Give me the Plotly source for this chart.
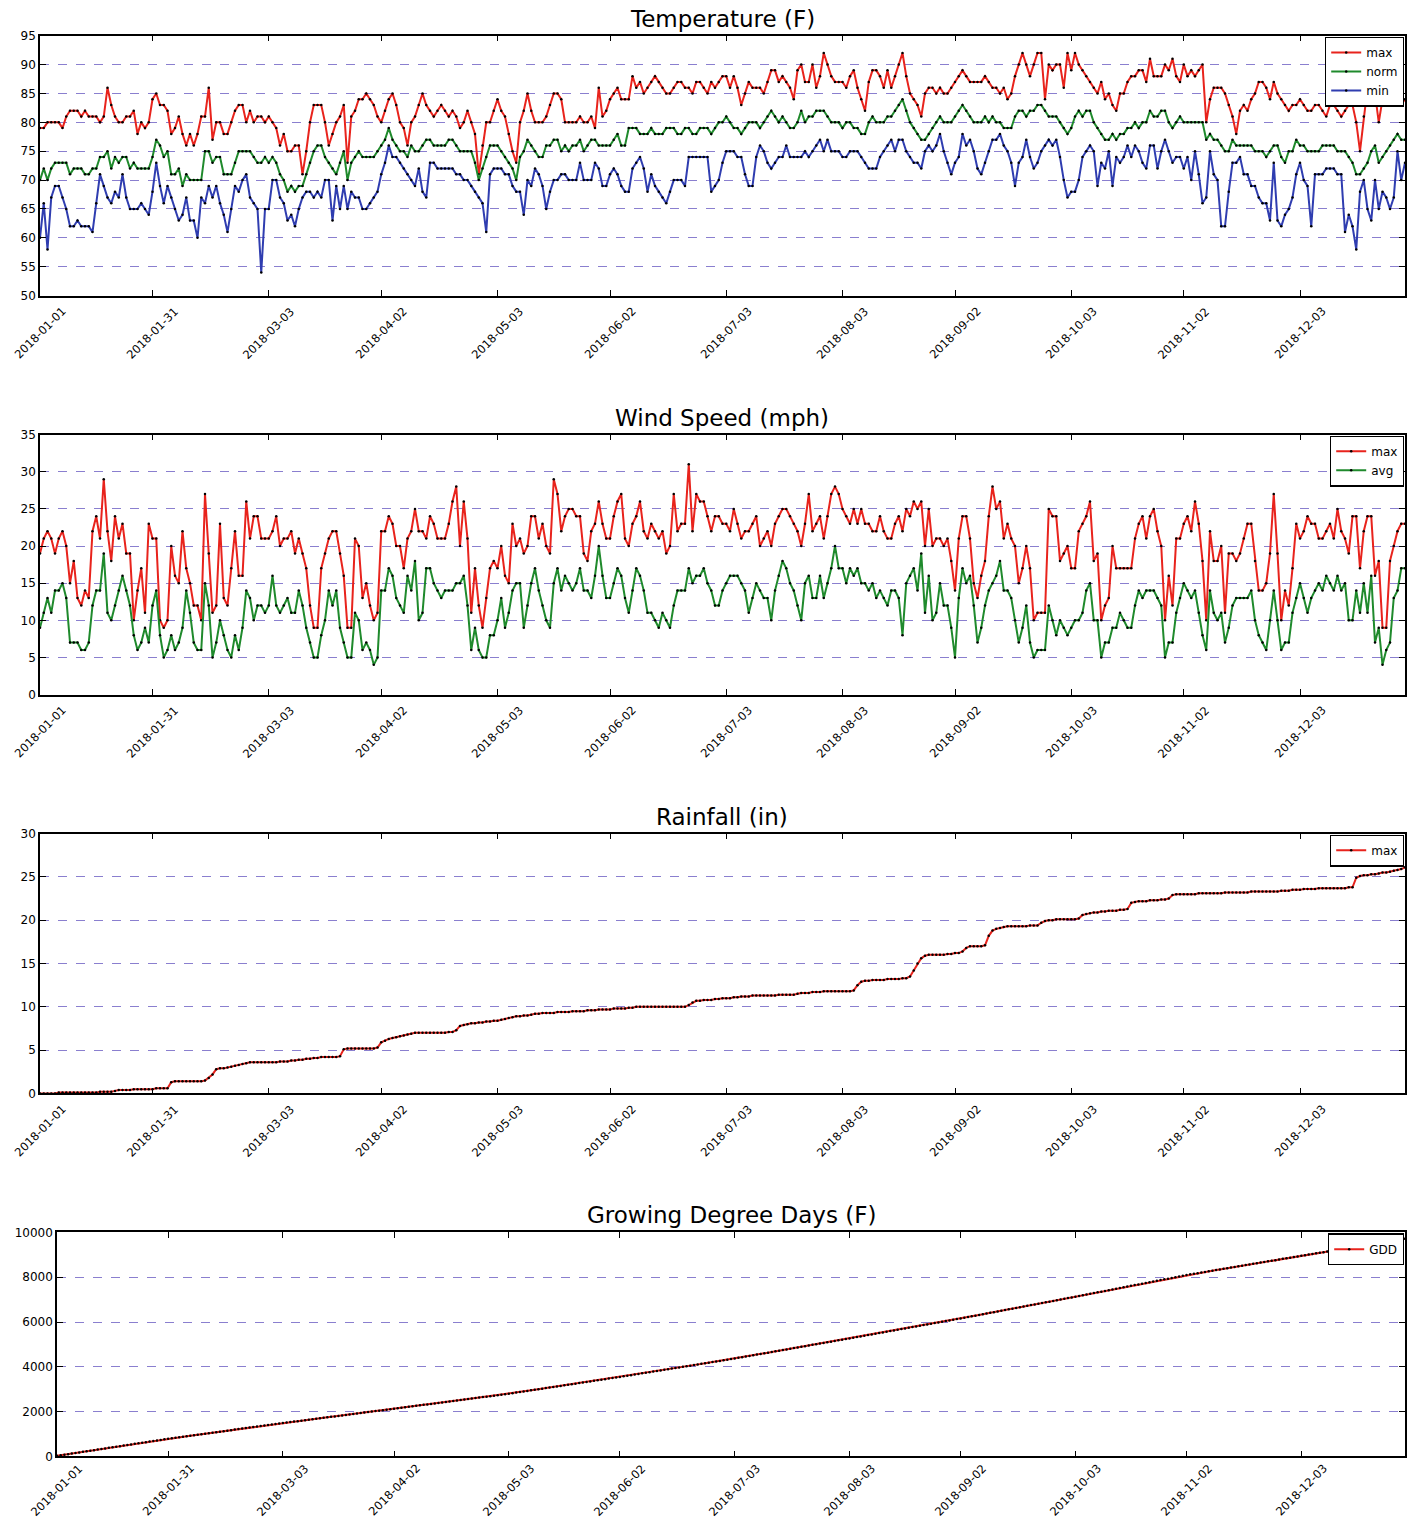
import pandas as pd
import plotly.graph_objects as go

# ---------------- data ----------------
dates = pd.date_range("2018-01-01", "2018-12-31", freq="D")
tick_dates = ["2018-01-01", "2018-01-31", "2018-03-03", "2018-04-02", "2018-05-03", "2018-06-02",
              "2018-07-03", "2018-08-03", "2018-09-02", "2018-10-03", "2018-11-02", "2018-12-03"]

temp_max = [79,79,80,80,80,80,79,81,82,82,
 82,81,82,81,81,81,80,81,86,83,
 81,80,80,81,81,82,78,80,79,80,
 84,85,83,83,82,78,79,81,78,76,
 78,76,78,81,81,86,77,80,80,78,
 78,80,82,83,83,80,82,80,81,81,
 80,81,80,79,76,78,75,75,76,76,
 71,75,80,83,83,83,80,76,78,80,
 81,83,73,81,82,84,84,85,84,83,
 81,80,82,84,85,83,80,79,76,80,
 81,83,85,83,82,81,82,83,82,81,
 82,81,79,80,82,80,78,71,76,80,
 80,82,84,82,81,78,75,73,80,82,
 85,82,80,80,80,81,83,85,85,84,
 80,80,80,80,81,80,80,81,79,86,
 81,82,84,85,86,84,84,84,88,86,
 87,85,86,87,88,87,86,85,85,86,
 87,87,86,86,85,87,87,86,85,87,
 86,87,88,88,86,88,86,83,85,87,
 86,86,86,85,87,89,89,87,88,87,
 86,84,89,90,87,87,90,86,88,92,
 90,88,87,87,87,86,88,89,86,84,
 82,87,89,89,88,86,89,86,88,90,
 92,88,85,84,83,81,85,86,86,85,
 86,85,85,86,87,88,89,88,87,87,
 87,87,88,87,86,86,85,86,84,85,
 88,90,92,90,88,90,92,92,84,90,
 89,90,90,86,92,89,92,90,89,88,
 87,86,85,87,84,85,83,82,85,85,
 87,88,88,89,89,87,91,88,88,88,
 90,89,91,88,87,90,88,89,88,89,
 90,80,84,86,86,86,85,83,81,78,
 82,83,82,84,85,87,87,86,84,87,
 85,84,83,82,83,83,84,83,82,82,
 83,83,82,81,83,83,82,81,82,83,
 83,80,75,81,86,87,85,80,84,87,
 85,83,83,83,84]

temp_norm = [70,72,70,72,73,73,73,73,71,72,
 72,72,71,71,72,72,74,74,75,72,
 74,73,74,74,72,73,72,72,72,72,
 74,77,76,74,75,71,71,72,69,71,
 70,70,70,70,75,75,73,74,74,71,
 71,71,73,75,75,75,75,74,73,73,
 74,73,74,73,71,70,68,69,68,69,
 69,71,73,75,76,76,74,73,72,71,
 73,75,70,73,74,75,74,74,74,74,
 75,76,77,79,77,76,75,75,74,76,
 75,75,76,77,77,76,76,76,76,77,
 77,76,75,75,75,75,73,70,72,74,
 76,76,76,75,74,73,72,70,74,75,
 77,76,75,74,74,76,76,77,77,75,
 76,75,76,76,77,75,76,77,77,76,
 76,76,76,77,78,76,76,79,79,79,
 78,78,78,79,78,78,78,79,79,79,
 78,78,79,79,78,78,79,79,79,78,
 79,80,80,81,80,79,79,78,79,80,
 80,80,79,80,81,82,81,80,81,80,
 79,79,80,82,80,81,81,82,82,82,
 81,80,80,80,79,80,80,79,79,78,
 78,80,81,80,80,80,81,81,82,83,
 84,82,80,79,78,77,77,78,79,80,
 81,80,80,80,81,82,83,82,81,80,
 80,80,81,80,81,80,80,79,79,79,
 81,82,82,81,82,82,83,83,82,81,
 81,81,80,79,78,79,81,82,81,82,
 82,80,79,78,77,77,78,77,78,78,
 79,79,80,79,80,80,82,81,81,82,
 82,80,79,80,81,80,80,80,80,80,
 80,77,78,77,77,76,75,75,77,76,
 76,76,76,76,75,75,75,74,75,76,
 76,74,73,75,75,77,76,76,75,75,
 75,75,76,76,76,76,75,75,75,74,
 73,71,71,72,73,75,76,73,74,75,
 76,77,78,77,77]

temp_min = [60,66,58,67,69,69,67,65,62,62,
 63,62,62,62,61,66,71,69,67,66,
 68,67,71,67,65,65,65,66,65,64,
 68,73,69,66,69,67,65,63,64,67,
 63,63,60,67,66,69,67,69,66,64,
 61,65,69,68,70,71,67,66,65,54,
 65,65,70,70,67,66,63,64,62,65,
 67,68,68,67,68,67,70,70,63,69,
 65,69,65,68,67,67,65,65,66,67,
 68,71,73,76,74,74,73,72,71,70,
 69,72,68,67,73,73,72,72,72,72,
 72,71,71,70,70,69,68,67,66,61,
 71,72,72,72,71,71,69,68,68,64,
 70,69,72,71,69,65,68,70,70,71,
 71,70,70,70,73,70,70,70,73,72,
 69,69,71,72,71,69,68,68,72,73,
 74,72,68,71,69,68,67,66,68,70,
 70,70,69,74,74,74,74,74,74,68,
 69,70,73,75,75,75,74,74,71,69,
 69,74,76,75,73,72,73,74,74,76,
 74,74,74,74,75,74,75,76,77,75,
 77,75,75,75,74,74,75,75,75,74,
 73,72,72,72,74,75,76,77,75,77,
 77,75,74,73,73,72,75,76,75,76,
 78,75,73,71,73,74,78,76,77,75,
 72,71,73,75,77,77,78,76,75,73,
 69,73,74,77,74,72,73,75,76,77,
 76,77,74,70,67,68,68,70,74,75,
 76,75,69,73,72,75,69,74,73,74,
 76,74,76,75,73,72,76,76,72,75,
 77,75,73,74,74,72,74,70,75,71,
 66,67,75,71,70,62,62,68,73,73,
 74,71,71,69,69,67,66,66,63,73,
 63,62,64,65,67,71,73,70,69,62,
 71,71,71,72,72,72,71,71,61,64,
 62,58,68,70,65,63,70,65,68,67,
 65,67,75,70,73]

wind_max = [19,21,22,21,19,21,22,20,15,18,
 13,12,14,13,22,24,21,29,22,18,
 24,21,23,19,19,10,14,17,11,23,
 21,21,10,9,10,20,16,15,22,17,
 15,12,12,10,27,19,11,12,23,13,
 12,17,22,16,16,26,21,24,24,21,
 21,21,22,24,20,21,21,22,19,21,
 19,17,12,9,9,17,19,21,22,22,
 19,16,9,9,21,20,13,15,12,10,
 11,22,22,24,23,20,20,17,21,22,
 25,22,22,21,24,23,21,21,21,23,
 26,28,20,26,21,11,17,12,9,13,
 17,18,17,20,16,15,23,20,21,19,
 20,24,24,21,23,20,19,29,27,22,
 24,25,25,24,24,19,18,22,23,26,
 23,21,21,24,26,27,21,20,23,24,
 26,22,21,23,22,21,22,19,20,27,
 22,23,23,31,22,27,26,26,24,22,
 24,24,23,23,22,25,23,21,22,22,
 23,24,20,21,22,20,23,24,25,25,
 24,23,22,20,23,27,22,23,24,21,
 24,27,28,27,25,24,23,25,23,25,
 23,23,22,22,24,22,21,21,23,24,
 22,25,24,26,25,26,20,25,20,21,
 21,20,21,18,14,21,24,24,21,15,
 13,16,18,24,28,25,26,21,23,21,
 20,15,17,20,17,10,11,11,11,25,
 24,24,18,19,20,17,17,22,23,24,
 26,18,19,10,12,13,20,17,17,17,
 17,17,21,23,24,21,24,25,22,20,
 10,16,12,21,21,23,24,22,26,23,
 18,10,22,18,18,20,11,19,19,18,
 19,21,23,23,18,14,14,15,19,27,
 19,10,14,12,17,23,21,22,24,23,
 23,21,21,22,23,21,25,22,21,19,
 24,24,17,22,24,24,16,18,9,9,
 18,20,22,23,23]

wind_avg = [9,11,13,11,14,14,15,13,7,7,
 7,6,6,7,12,14,14,19,11,10,
 12,14,16,14,12,8,6,7,9,7,
 12,14,8,5,6,8,6,7,9,14,
 11,7,6,6,15,12,5,7,10,8,
 6,5,8,6,9,14,13,10,12,12,
 11,12,16,12,11,12,13,11,11,14,
 12,9,7,5,5,8,10,14,12,14,
 9,7,5,5,11,10,6,7,6,4,
 5,14,14,17,16,13,12,11,16,14,
 18,10,11,17,17,15,14,13,14,14,
 14,15,15,16,12,6,9,6,5,5,
 8,8,10,13,9,11,14,15,15,9,
 12,15,17,14,12,10,9,15,17,14,
 16,15,14,15,17,14,14,13,16,20,
 16,13,13,15,17,16,13,11,14,17,
 16,14,11,11,10,9,11,10,9,12,
 14,14,14,17,15,16,16,17,15,14,
 12,12,14,15,16,16,16,15,14,11,
 13,15,14,13,13,10,14,16,18,17,
 15,14,12,10,15,16,13,13,16,13,
 15,17,20,17,17,15,17,16,17,15,
 15,14,15,13,14,13,12,14,14,13,
 8,15,16,17,14,19,11,16,10,11,
 15,12,12,9,5,13,17,15,16,12,
 7,9,12,14,15,16,18,14,14,13,
 10,7,9,12,7,5,6,6,6,12,
 10,8,10,9,8,9,10,10,11,14,
 15,10,10,5,7,7,9,9,11,10,
 9,9,12,14,13,14,14,14,13,12,
 5,7,7,11,13,15,14,13,14,11,
 8,6,14,11,10,11,7,9,12,13,
 13,13,13,14,10,8,7,6,10,14,
 10,6,7,7,11,13,15,13,11,13,
 14,15,14,16,15,14,16,14,15,10,
 10,14,11,15,11,16,7,9,4,6,
 7,13,14,17,17]

rain_cum = [0,0,0,0,0,0.1,0.1,0.1,0.1,0.1,
 0.1,0.1,0.1,0.1,0.1,0.1,0.2,0.2,0.2,0.2,
 0.3,0.4,0.4,0.4,0.4,0.5,0.5,0.5,0.5,0.5,
 0.5,0.6,0.6,0.6,0.6,1.3,1.4,1.4,1.4,1.4,
 1.4,1.4,1.4,1.4,1.5,1.8,2.2,2.8,2.9,2.9,
 3.0,3.1,3.2,3.3,3.4,3.5,3.6,3.6,3.6,3.6,
 3.6,3.6,3.6,3.6,3.7,3.7,3.7,3.8,3.8,3.9,
 3.9,4.0,4.0,4.1,4.1,4.2,4.2,4.2,4.2,4.2,
 4.3,5.1,5.2,5.2,5.2,5.2,5.2,5.2,5.2,5.2,
 5.3,5.9,6.1,6.3,6.4,6.5,6.6,6.7,6.8,6.9,
 7.0,7.0,7.0,7.0,7.0,7.0,7.0,7.0,7.0,7.1,
 7.1,7.3,7.8,7.9,8.0,8.1,8.1,8.2,8.2,8.3,
 8.3,8.4,8.4,8.5,8.6,8.7,8.8,8.9,8.9,9.0,
 9.0,9.1,9.2,9.2,9.3,9.3,9.3,9.3,9.4,9.4,
 9.4,9.4,9.5,9.5,9.5,9.5,9.6,9.6,9.6,9.7,
 9.7,9.7,9.7,9.8,9.8,9.8,9.8,9.9,9.9,10.0,
 10.0,10.0,10.0,10.0,10.0,10.0,10.0,10.0,10.0,10.0,
 10.0,10.0,10.0,10.2,10.5,10.7,10.7,10.8,10.8,10.8,
 10.9,10.9,11.0,11.0,11.0,11.1,11.1,11.2,11.2,11.2,
 11.3,11.3,11.3,11.3,11.3,11.3,11.3,11.4,11.4,11.4,
 11.4,11.4,11.5,11.6,11.6,11.6,11.7,11.7,11.7,11.8,
 11.8,11.8,11.8,11.8,11.8,11.8,11.8,11.9,12.5,12.9,
 13.0,13.0,13.1,13.1,13.1,13.1,13.2,13.2,13.2,13.2,
 13.3,13.3,13.5,14.2,15.0,15.6,15.9,16.0,16.0,16.0,
 16.0,16.0,16.1,16.1,16.2,16.2,16.4,16.8,17.0,17.0,
 17.0,17.0,17.1,18.2,18.8,19.0,19.1,19.2,19.3,19.3,
 19.3,19.3,19.3,19.3,19.4,19.4,19.4,19.7,19.9,20.0,
 20.0,20.1,20.1,20.1,20.1,20.1,20.1,20.2,20.6,20.7,
 20.8,20.9,20.9,21.0,21.0,21.1,21.1,21.1,21.2,21.2,
 21.3,22.0,22.1,22.2,22.2,22.2,22.3,22.3,22.3,22.4,
 22.4,22.5,22.9,23.0,23.0,23.0,23.0,23.0,23.0,23.1,
 23.1,23.1,23.1,23.1,23.1,23.1,23.2,23.2,23.2,23.2,
 23.2,23.2,23.2,23.3,23.3,23.3,23.3,23.3,23.3,23.3,
 23.3,23.4,23.4,23.4,23.5,23.5,23.5,23.6,23.6,23.6,
 23.6,23.7,23.7,23.7,23.7,23.7,23.7,23.7,23.7,23.8,
 23.8,24.9,25.1,25.2,25.2,25.3,25.3,25.4,25.5,25.5,
 25.6,25.7,25.8,25.9,26.1]

gdd_cum = [25,51,76,102,127,153,178,204,229,255,
 280,306,331,357,382,408,433,459,484,510,
 535,561,586,612,637,663,688,714,739,765,
 790,813,835,858,881,903,926,948,971,994,
 1016,1039,1061,1084,1107,1129,1152,1174,1197,1220,
 1242,1265,1287,1310,1333,1355,1378,1400,1423,1446,
 1468,1490,1511,1532,1554,1575,1596,1618,1639,1660,
 1682,1703,1724,1746,1767,1788,1810,1831,1852,1874,
 1895,1916,1938,1959,1980,2002,2023,2044,2066,2087,
 2108,2130,2152,2173,2195,2216,2238,2260,2281,2303,
 2324,2346,2368,2389,2411,2432,2454,2476,2497,2519,
 2540,2562,2584,2605,2627,2648,2670,2692,2713,2735,
 2756,2778,2800,2825,2850,2875,2900,2925,2950,2975,
 3000,3025,3050,3075,3100,3125,3150,3175,3200,3225,
 3250,3275,3300,3325,3350,3375,3400,3425,3450,3475,
 3500,3525,3550,3577,3603,3630,3656,3683,3709,3736,
 3762,3789,3815,3842,3868,3895,3921,3948,3974,4001,
 4027,4054,4080,4107,4133,4160,4186,4213,4239,4266,
 4292,4319,4345,4372,4401,4430,4459,4488,4517,4546,
 4575,4604,4633,4662,4691,4720,4749,4778,4807,4836,
 4865,4894,4923,4952,4981,5010,5039,5068,5097,5126,
 5155,5184,5213,5242,5271,5301,5330,5360,5390,5420,
 5449,5479,5509,5538,5568,5598,5627,5657,5687,5716,
 5746,5776,5805,5835,5865,5894,5924,5954,5983,6013,
 6043,6072,6102,6132,6161,6192,6224,6255,6286,6318,
 6349,6380,6412,6443,6474,6505,6537,6568,6599,6631,
 6662,6693,6725,6756,6787,6819,6850,6881,6912,6944,
 6975,7006,7038,7069,7100,7132,7164,7196,7229,7261,
 7293,7326,7358,7390,7423,7455,7487,7519,7552,7584,
 7616,7649,7681,7713,7746,7778,7810,7842,7875,7907,
 7939,7972,8004,8036,8069,8101,8129,8156,8184,8212,
 8239,8267,8295,8322,8350,8378,8406,8433,8461,8489,
 8516,8544,8572,8599,8627,8655,8682,8710,8738,8765,
 8793,8821,8848,8876,8904,8931,8959,8986,9013,9040,
 9067,9094,9121,9148,9175,9202,9229,9256,9283,9310,
 9337,9364,9391,9418,9445,9472,9499,9526,9553,9580,
 9607,9634,9661,9688,9715]

# ---------------- styling / layout ----------------
W, H = 1419, 1524
FONT = "DejaVu Sans"
RED, GREEN, BLUE = "#e8231c", "#1f8a2c", "#2f3db0"
GRID = "#8a7fcf"
RIGHT = 1405


def fy(p):
    # vertical pixel position in the figure for a target position in the picture
    return (p - 6.3) / 0.991


panels = [  # top, bottom, left (target pixels)
    (35, 295, 40),
    (434, 694, 40),
    (833, 1093, 40),
    (1232, 1456, 57),
]
titles = ["Temperature (F)", "Wind Speed (mph)", "Rainfall (in)", "Growing Degree Days (F)"]
yranges = [(50, 95, 5), (0, 35, 5), (0, 30, 5), (0, 10000, 2000)]
label_shift = [-6, -6, -6, -2]

fig = go.Figure()


def add(series, name, color, i, legend):
    fig.add_trace(go.Scatter(
        x=dates[:len(series)], y=series, name=name, mode="lines+markers",
        line=dict(color=color, width=2),
        marker=dict(color="black", size=2.5),
        xaxis=f"x{i}" if i > 1 else "x", yaxis=f"y{i}" if i > 1 else "y",
        legend=legend,
    ))


add(temp_max, "max", RED, 1, "legend")
add(temp_norm, "norm", GREEN, 1, "legend")
add(temp_min, "min", BLUE, 1, "legend")
add(wind_max, "max", RED, 2, "legend2")
add(wind_avg, "avg", GREEN, 2, "legend2")
add(rain_cum, "max", RED, 3, "legend3")
add(gdd_cum, "GDD", RED, 4, "legend4")

layout = dict(
    width=W, height=H, margin=dict(l=0, r=0, t=0, b=0),
    paper_bgcolor="white", plot_bgcolor="white",
    font=dict(family=FONT, color="black", size=12),
    showlegend=True,
)
annotations = []
for k, (top, bot, left) in enumerate(panels):
    i = k + 1
    xs = "" if i == 1 else str(i)
    ftop, fbot = fy(top), fy(bot)
    ydom = [1 - fbot / H, 1 - ftop / H]
    xdom = [left / W, RIGHT / W]
    lo, hi, dt = yranges[k]
    layout[f"xaxis{xs}"] = dict(
        domain=xdom, anchor=f"y{xs}", type="date",
        range=["2018-01-01", "2018-12-31"],
        tickmode="array", tickvals=tick_dates, showticklabels=False,
        ticks="inside", ticklen=6, tickwidth=1, tickcolor="black",
        mirror="allticks", showline=True, linecolor="black", linewidth=1.5,
        showgrid=False, zeroline=False,
    )
    layout[f"yaxis{xs}"] = dict(
        domain=ydom, anchor=f"x{xs}", range=[lo, hi], dtick=dt, tick0=lo,
        tickformat="d",
        ticks="inside", ticklen=6, tickwidth=1, tickcolor="black",
        mirror="allticks", showline=True, linecolor="black", linewidth=1.5,
        showgrid=True, gridcolor=GRID, griddash="dash", gridwidth=1.3,
        zeroline=False, tickfont=dict(size=12, family=FONT),
    )
    # title
    annotations.append(dict(
        text=titles[k], x=(xdom[0] + xdom[1]) / 2, y=ydom[1], xref="paper", yref="paper",
        xanchor="center", yanchor="bottom", yshift=2, showarrow=False,
        font=dict(size=23, family=FONT, color="black"),
    ))
    # rotated date tick labels centred on the ticks
    for td in tick_dates:
        annotations.append(dict(
            text=td, x=td, y=ydom[0], xref=f"x{xs}", yref="paper",
            xanchor="center", yanchor="top", yshift=label_shift[k], textangle=-45,
            showarrow=False, font=dict(size=11.5, family=FONT, color="black"),
        ))
    lname = "legend" if i == 1 else f"legend{i}"
    layout[lname] = dict(
        x=(RIGHT - 1) / W, y=1 - (ftop + 1) / H, xanchor="right", yanchor="top",
        bgcolor="white", bordercolor="black", borderwidth=1.2,
        font=dict(size=12, family=FONT, color="black"),
        tracegroupgap=0, itemwidth=30,
    )

layout["annotations"] = annotations
fig.update_layout(**layout)
fig.write_html("out.html")
